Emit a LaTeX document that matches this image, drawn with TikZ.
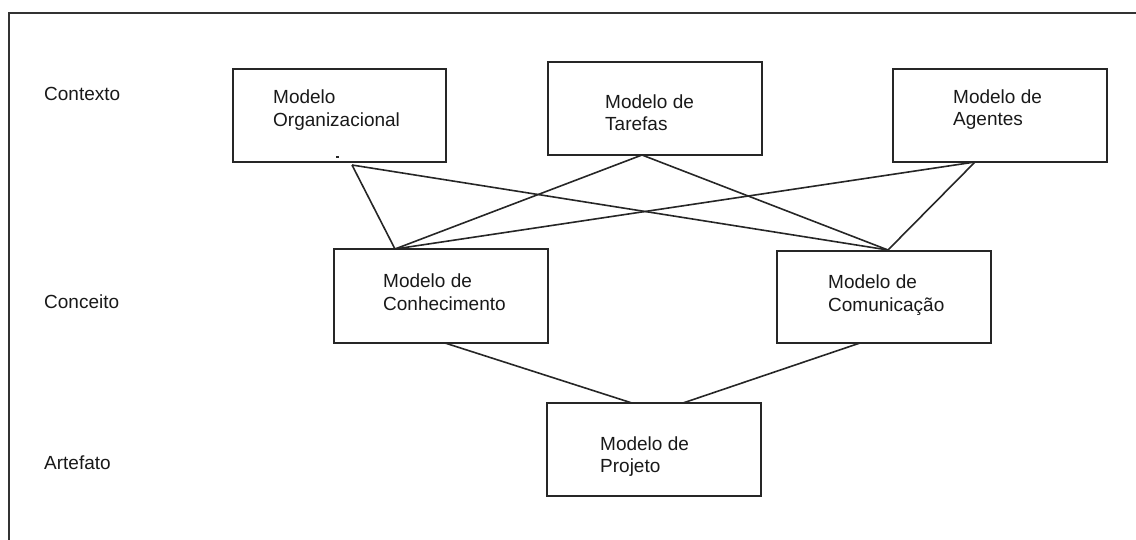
\documentclass[tikz,border=0pt]{standalone}
\usepackage{fontspec}
\setmainfont{Liberation Sans}
\begin{document}
\begin{tikzpicture}[x=1pt,y=-1pt,
  box/.style={draw=black!85, line width=1.5pt, minimum width=#1, minimum height=93pt, inner sep=0pt},
  box/.default=214pt,
  txt/.style={anchor=base west, inner sep=0pt, font=\fontsize{19}{22}\selectfont, text=black!90},
  link/.style={draw=black!85, line width=1.6pt}]
  \useasboundingbox (0,0) rectangle (1136,539);
  \clip (0,0) rectangle (1136,539);
  % outer frame
  \draw[black!80, line width=2pt] (9,13) rectangle (1160,560);

  % row labels
  \node[txt] (lctx) at (44,100.5) {Contexto};
  \node[txt] (lcon) at (44,308.5) {Conceito};
  \node[txt] (lart) at (44,469.5) {Artefato};

  % boxes
  \node[box=213pt] (org) at (339.5,115.5) {};
  \node[box] (tar) at (655,108.5) {};
  \node[box] (age) at (1000,115.5) {};
  \node[box, minimum height=94pt] (con) at (441,296) {};
  \node[box, minimum height=92pt] (com) at (884,297) {};
  \node[box] (pro) at (654,449.5) {};

  % box texts
  \node[txt] (orgA) at (273,103.5) {Modelo};
  \node[txt] (orgB) at (273,126.5) {Organizacional};
  \node[txt] (tarA) at (605,108) {Modelo de};
  \node[txt] (tarB) at (605,130) {Tarefas};
  \node[txt] (ageA) at (953,103.5) {Modelo de};
  \node[txt] (ageB) at (953,125.5) {Agentes};
  \node[txt] (conA) at (383,287) {Modelo de};
  \node[txt] (conB) at (383,310) {Conhecimento};
  \node[txt] (comA) at (828,288.5) {Modelo de};
  \node[txt] (comB) at (828,311) {Comunicação};
  \node[txt] (proA) at (600,450) {Modelo de};
  \node[txt] (proB) at (600,472) {Projeto};

  % small mark inside the organisational box
  \draw[black!85, line width=1.2pt] (336,157) -- (339,157);

  % connection points
  \coordinate (oA) at (352,165);
  \coordinate (tA) at (642,155);
  \coordinate (aA) at (975,162);
  \coordinate (cT) at (395,249);
  \coordinate (mT) at (888,250);
  \coordinate (cB) at (445,343);
  \coordinate (mB) at (860,343);
  \coordinate (pL) at (632,403);
  \coordinate (pR) at (683,403);

  % connectors
  \draw[link] (oA) -- (cT);
  \draw[link] (oA) -- (mT);
  \draw[link] (tA) -- (cT);
  \draw[link] (tA) -- (mT);
  \draw[link] (aA) -- (cT);
  \draw[link] (aA) -- (mT);
  \draw[link] (cB) -- (pL);
  \draw[link] (mB) -- (pR);
\end{tikzpicture}
\end{document}
